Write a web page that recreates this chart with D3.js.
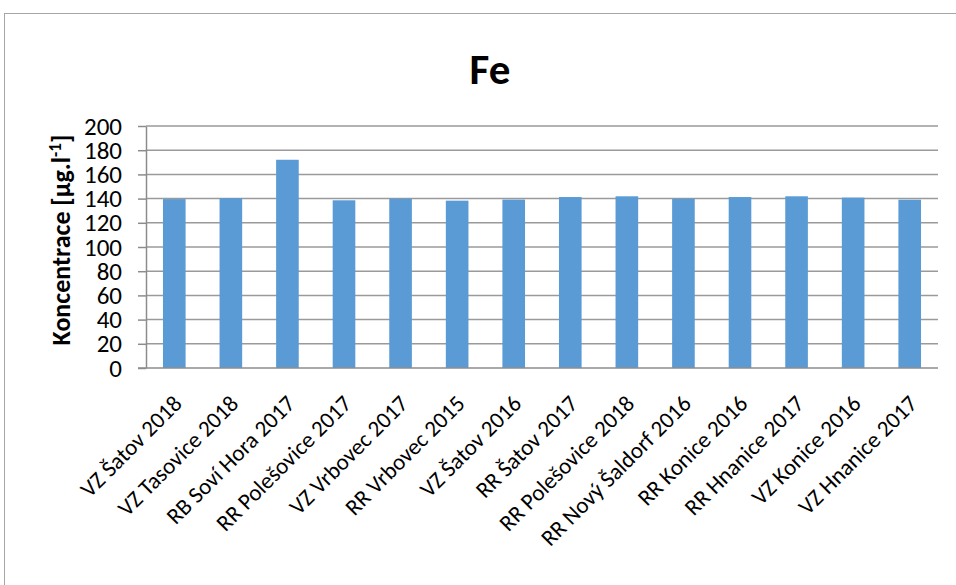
<!DOCTYPE html>
<html>
<head>
<meta charset="utf-8">
<script src="https://cdn.jsdelivr.net/npm/d3@7"></script>
<style>
  html, body { margin: 0; padding: 0; background: #fff; }
  svg { display: block; font-family: Carlito, Calibri, Lato, "Open Sans", sans-serif; }
</style>
</head>
<body>
<svg id="chart" width="956" height="585"></svg>
<script>
// Iron concentration per sampling site and year
const categories = [
  "VZ Šatov 2018", "VZ Tasovice 2018", "RB Soví Hora 2017", "RR Polešovice 2017",
  "VZ Vrbovec 2017", "RR Vrbovec 2015", "VZ Šatov 2016", "RR Šatov 2017",
  "RR Polešovice 2018", "RR Nový Šaldorf 2016", "RR Konice 2016", "RR Hnanice 2017",
  "VZ Konice 2016", "VZ Hnanice 2017"
];
const values = [139.6, 140.3, 172.1, 138.6, 139.9, 138.3, 139.2, 141.3, 141.9, 139.9, 141.3, 141.9, 140.8, 139.1];
const yTicks = [0, 20, 40, 60, 80, 100, 120, 140, 160, 180, 200];

const svg = d3.select("#chart");
const plot = { left: 146, right: 938, top: 126, bottom: 368 };

// outer chart frame
svg.append("rect")
  .attr("x", 4.5).attr("y", 13.5)
  .attr("width", 1000).attr("height", 700)
  .attr("fill", "none").attr("stroke", "#a6a6a6").attr("stroke-width", 1);

const x = d3.scaleBand()
  .domain(categories)
  .range([plot.left, plot.right])
  .paddingInner(0.6)
  .paddingOuter(0.3);

const y = d3.scaleLinear().domain([0, 200]).range([plot.bottom, plot.top]);

// horizontal gridlines
svg.append("g")
  .selectAll("line")
  .data(yTicks.filter(d => d > 0))
  .join("line")
  .attr("x1", plot.left).attr("x2", plot.right)
  .attr("y1", d => y(d)).attr("y2", d => y(d))
  .attr("stroke", "#9a9a9a").attr("stroke-width", 1.5);

// bars
svg.append("g")
  .selectAll("rect")
  .data(values)
  .join("rect")
  .attr("x", (d, i) => x(categories[i]))
  .attr("width", x.bandwidth())
  .attr("y", d => y(d))
  .attr("height", d => y(0) - y(d))
  .attr("fill", "#5b9bd5");

// y axis
const yAxis = svg.append("g")
  .attr("transform", `translate(${plot.left},0)`)
  .call(d3.axisLeft(y).tickValues(yTicks).tickSize(8).tickPadding(16).tickSizeOuter(0));
yAxis.select(".domain").attr("stroke", "#8c8c8c").attr("stroke-width", 1.5);
yAxis.selectAll(".tick line").attr("stroke", "#8c8c8c").attr("stroke-width", 1.5);
yAxis.selectAll(".tick text")
  .attr("fill", "#000")
  .style("font-size", "25px")
  .style("font-family", "Carlito, Calibri, Lato, sans-serif");

// x baseline
svg.append("line")
  .attr("x1", plot.left - 8).attr("x2", plot.right)
  .attr("y1", plot.bottom).attr("y2", plot.bottom)
  .attr("stroke", "#8c8c8c").attr("stroke-width", 1.5);

// category labels, rotated
svg.append("g")
  .selectAll("text")
  .data(categories)
  .join("text")
  .attr("transform", d => `translate(${x(d) + x.bandwidth() / 2 + 9},${plot.bottom + 37}) rotate(-45)`)
  .attr("text-anchor", "end")
  .style("font-size", "23px")
  .attr("fill", "#000")
  .text(d => d);

// title
svg.append("text")
  .attr("x", 490).attr("y", 84)
  .attr("text-anchor", "middle")
  .style("font-size", "43px")
  .style("font-weight", "bold")
  .text("Fe");

// y axis title with superscript
const yTitle = svg.append("text")
  .attr("transform", `translate(70,240) rotate(-90)`)
  .attr("text-anchor", "middle")
  .style("font-size", "26px")
  .style("font-weight", "bold");
yTitle.append("tspan").text("Koncentrace [µg.l");
yTitle.append("tspan").attr("dy", -9).style("font-size", "17px").text("-1");
yTitle.append("tspan").attr("dy", 9).text("]");
</script>
</body>
</html>
